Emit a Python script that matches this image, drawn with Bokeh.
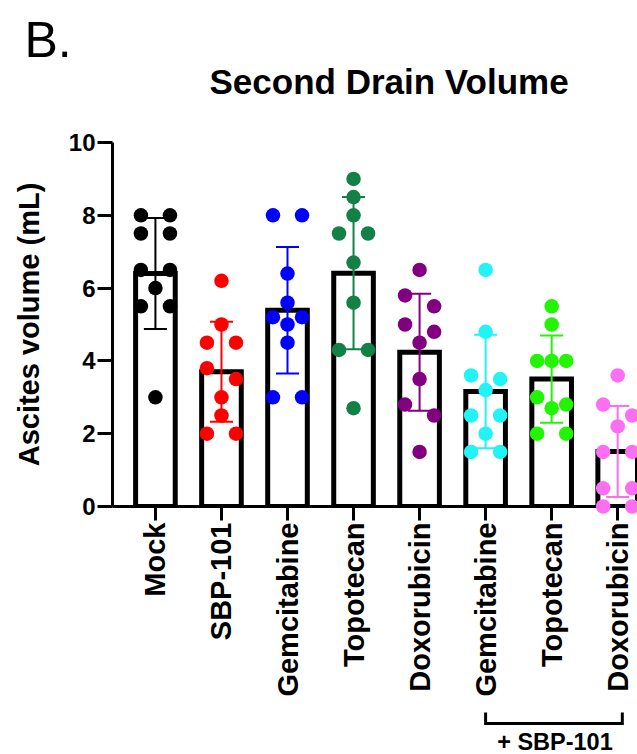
import math
import numpy as np
from bokeh.plotting import figure
from bokeh.models import Range1d, FixedTicker, Title, ColumnDataSource
from bokeh.layouts import column
from bokeh.embed import file_html
from bokeh.resources import INLINE
from bokeh.core.properties import value

# ---------------- data ----------------
categories = ["Mock", "SBP-101", "Gemcitabine", "Topotecan", "Doxorubicin",
              "Gemcitabine", "Topotecan", "Doxorubicin"]
with_sbp101 = [False, False, False, False, False, True, True, True]
colors = ["#000000", "#FF0000", "#0000FF", "#138045", "#800080",
          "#21F3F7", "#22F504", "#FC6FF2"]

mock = [8.0, 8.0, 7.5, 7.5, 6.5, 6.5, 6.0, 5.5, 5.5, 3.0]
sbp101 = [6.2, 5.0, 4.5, 4.5, 3.8, 3.5, 3.0, 2.5, 2.0, 2.0]
gemcitabine = [8.0, 8.0, 6.4, 5.6, 5.2, 5.2, 5.0, 4.5, 3.0, 3.0]
topotecan = [9.0, 8.5, 8.0, 7.5, 7.5, 6.7, 5.6, 4.3, 4.3, 2.7]
doxorubicin = [6.5, 5.8, 5.5, 5.0, 4.8, 4.5, 3.5, 2.8, 2.5, 1.5]
gem_sbp = [6.5, 4.8, 3.6, 3.5, 3.2, 2.5, 2.5, 2.0, 1.5, 1.5]
topo_sbp = [5.5, 5.0, 4.0, 4.0, 4.0, 3.0, 2.8, 2.7, 2.0, 2.0]
doxo_sbp = [3.6, 2.8, 2.5, 2.2, 1.5, 1.5, 0.5, 0.5, 0.0, 0.0]

groups = [mock, sbp101, gemcitabine, topotecan, doxorubicin, gem_sbp, topo_sbp, doxo_sbp]

y_ticks = [0, 2, 4, 6, 8, 10]
title_text = "Second Drain Volume"
panel_text = "B."
y_label = "Ascites volume (mL)"
bracket_text = "+ SBP-101"

FONT = "Liberation Sans"

# ---------------- helpers ----------------
def swarm_offsets(vals, gap=0.385, step=0.22):
    """Prism-like column scatter: clusters of overlapping values spread sideways."""
    order = sorted(vals, reverse=True)
    clusters = []
    for v in order:
        if clusters and clusters[-1][-1] - v < gap:
            clusters[-1].append(v)
        else:
            clusters.append([v])
    ys, dx = [], []
    for c in clusters:
        if len(c) == 1:
            slots = [0]
        elif len(c) == 2:
            slots = [-1, 1]
        else:
            slots = [-1, 1, 0, -2, 2][:len(c)]
        for v, s in zip(c, slots):
            ys.append(v)
            dx.append(s * step)
    return ys, dx

idx = list(range(len(categories)))
means = [float(np.mean(g)) for g in groups]
sds = [float(np.std(g, ddof=1)) for g in groups]

# ---------------- main figure ----------------
p = figure(width=637, height=706, x_range=Range1d(-0.65, 7.30), y_range=Range1d(0, 10),
           output_backend="svg", toolbar_location=None,
           min_border_left=112, min_border_right=0, min_border_top=142, min_border_bottom=200,
           title=panel_text)
p.outline_line_color = None
p.grid.visible = False
p.background_fill_color = "white"

# outermost title: panel letter
p.title.text_font = FONT
p.title.text_font_size = "50px"
p.title.text_font_style = "normal"
p.title.align = "left"
p.title.offset = -88
p.title.standoff = -17
p.title.text_color = "black"

# spacer between chart title and plot frame (nearest the frame)
p.add_layout(Title(text=" ", text_font_size="1px", standoff=39), "above")
# chart title
p.add_layout(Title(text=title_text, text_font=FONT, text_font_size="35px",
                   text_font_style="bold", align="left", offset=97, standoff=0,
                   text_color="black"), "above")

# bars
bar_src = ColumnDataSource(dict(x=idx, top=means))
p.vbar(x="x", top="top", bottom=0, width=0.6, source=bar_src,
       fill_color="white", line_color="black", line_width=5, line_join="miter")

# error bars (mean +/- SD)
lo = [m - s for m, s in zip(means, sds)]
hi = [m + s for m, s in zip(means, sds)]
p.segment(x0=idx, y0=lo, x1=idx, y1=hi, line_color=colors, line_width=2)
cap = 0.175
p.segment(x0=[i - cap for i in idx], y0=hi, x1=[i + cap for i in idx], y1=hi,
          line_color=colors, line_width=2)
p.segment(x0=[i - cap for i in idx], y0=lo, x1=[i + cap for i in idx], y1=lo,
          line_color=colors, line_width=2)

# individual points
for i, (g, c) in enumerate(zip(groups, colors)):
    ys, dx = swarm_offsets(g)
    r = p.scatter(x=[i + d for d in dx], y=ys, size=14.5, fill_color=c, line_color=None)
    r.level = "overlay"

# axes
xa = p.xaxis[0]
xa.ticker = FixedTicker(ticks=idx)
xa.major_label_overrides = {i: name for i, name in enumerate(categories)}
xa.major_label_orientation = math.pi / 2
xa.major_label_text_font = FONT
xa.major_label_text_font_size = "29px"
xa.major_label_text_font_style = "bold"
xa.major_label_text_color = "black"
xa.major_label_standoff = 2
xa.major_tick_out = 14
xa.major_tick_in = 0
xa.major_tick_line_width = 3
xa.minor_tick_out = 0
xa.minor_tick_in = 0
xa.axis_line_width = 3

ya = p.yaxis[0]
ya.ticker = FixedTicker(ticks=y_ticks)
ya.major_label_text_font = FONT
ya.major_label_text_font_size = "24px"
ya.major_label_text_font_style = "bold"
ya.major_label_text_color = "black"
ya.major_label_standoff = 2
ya.major_tick_out = 15
ya.major_tick_in = 0
ya.major_tick_line_width = 3
ya.minor_tick_out = 0
ya.minor_tick_in = 0
ya.axis_line_width = 3
ya.axis_label = y_label
ya.axis_label_text_font = FONT
ya.axis_label_text_font_size = "29px"
ya.axis_label_text_font_style = "bold"
ya.axis_label_text_color = "black"
ya.axis_label_standoff = 21

# ---------------- bracket figure ----------------
p2 = figure(width=637, height=48, x_range=p.x_range, y_range=Range1d(0, 48),
            output_backend="svg", toolbar_location=None,
            x_axis_location=None, y_axis_location=None,
            min_border_left=112, min_border_right=0, min_border_top=0, min_border_bottom=0)
p2.outline_line_color = None
p2.grid.visible = False

combo = [i for i, f in enumerate(with_sbp101) if f]
x0, x1 = combo[0], combo[-1]
p2.line(x=[x0, x0, x1 + 0.07, x1 + 0.07], y=[42, 31, 31, 42], line_color="black",
        line_width=3, line_join="miter")
p2.text(x=[(x0 + x1) / 2 + 0.05], y=[13], text=[bracket_text], text_font=value(FONT),
        text_font_size="23.5px", text_font_style="bold", text_align="center",
        text_baseline="middle", text_color="black")

layout = column(p, p2, spacing=0)
open("out.html", "w").write(file_html(layout, INLINE))
